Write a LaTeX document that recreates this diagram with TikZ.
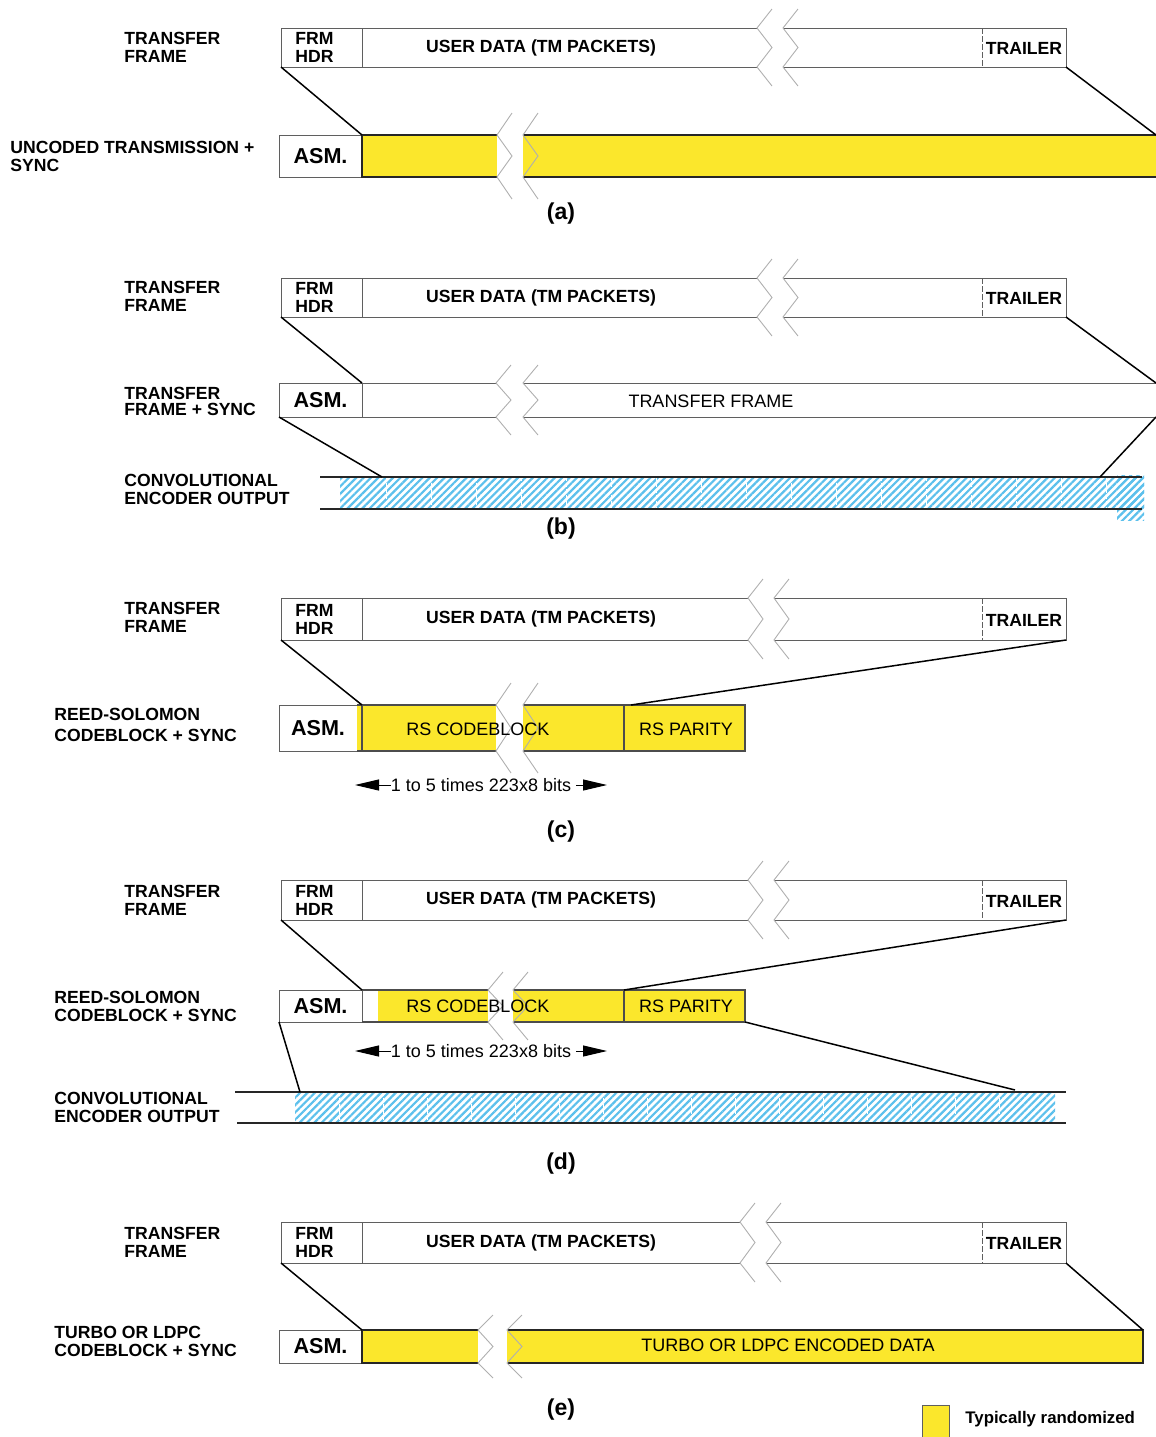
\documentclass[tikz,border=0pt]{standalone}
\usepackage{fontspec}
\setmainfont{Liberation Sans}
\usetikzlibrary{fit,patterns,patterns.meta,arrows.meta}

\definecolor{rndyellow}{RGB}{251,231,44}
\definecolor{hatchblue}{RGB}{92,192,236}
\definecolor{boxline}{RGB}{95,95,95}
\definecolor{breakline}{RGB}{175,175,175}

\tikzset{
  frmline/.style={draw=boxline, line width=0.5pt},
  bordline/.style={draw=black!85, line width=0.6pt},
  diag/.style={draw=black, line width=0.75pt},
  brk/.style={draw=breakline, line width=0.45pt},
  box/.style={inner sep=0pt, outer sep=0pt},
  yfill/.style={box, fill=rndyellow},
  asmbox/.style={box, draw=boxline, line width=0.5pt},
  asmtext/.style={font=\bfseries\fontsize{10.8}{12}\selectfont, inner sep=0pt},
  hatch/.style={box, pattern={Lines[angle=45,distance=2.6pt,line width=1.1pt]}, pattern color=hatchblue},
  lbl/.style={font=\bfseries\fontsize{8.8}{9}\selectfont, align=left, anchor=west, inner sep=0pt},
  tlbl/.style={font=\bfseries\fontsize{8.8}{9}\selectfont, align=left, inner sep=0pt},
  plain/.style={font=\fontsize{9}{10}\selectfont, inner sep=0pt},
  sublabel/.style={font=\bfseries\fontsize{11.5}{12}\selectfont, inner sep=0pt},
  sizearrow/.style={line width=0.5pt, -{Triangle[length=12pt,width=5.5pt]}},
}

% broken-line mark: one zigzag at x, between top and bottom, with overhang
\newcommand\zigzag[4]{%
  \draw[brk] ({#1+15},{#2-#4}) -- ({#1},{#2}) -- ({#1+15},{(#2+#3)/2})
    -- ({#1},{#3}) -- ({#1+15},{#3+#4});}
\newcommand\zigpair[5]{\zigzag{#1}{#3}{#4}{#5}\zigzag{#1+#2}{#3}{#4}{#5}}

% transfer frame: name, top, bottom, x of the break
\newcommand\txframe[4]{%
  \node[box, fit={(281,#2) (1066,#3)}] (#1) {};
  \draw[frmline] ({#4},#2) -- (281,#2) -- (281,#3) -- ({#4},#3);
  \draw[frmline] ({#4+26},#2) -- (1066,#2) -- (1066,#3) -- ({#4+26},#3);
  \draw[frmline] (362,#2) -- (362,#3);
  \draw[frmline, dash pattern=on 3pt off 1pt] (982,#2) -- (982,#3);
  \zigpair{#4}{26}{#2}{#3}{19}
  \node[lbl] (#1-hdr) at (295,{(#2+#3)/2}) {FRM\\HDR};
  \node[tlbl] (#1-data) at (541,{(#2+#3)/2}) {USER DATA (TM PACKETS)};
  \node[tlbl] (#1-trl) at (1024,{(#2+#3)/2+1}) {TRAILER};
}

% sync marker box: name, left, top, right, bottom
\newcommand\asm[5]{%
  \node[asmbox, fit={(#2,#3) (#4,#5)}] (#1) {};
  \node[asmtext] (#1-t) at (#1.center) {ASM.};
}

\begin{document}
\begin{tikzpicture}[x=0.5pt, y=-0.5pt]
\useasboundingbox (0,0) rectangle (1156,1437);

% ---------------- (a) uncoded transmission ----------------
\node[lbl] (lA1) at (124,47) {TRANSFER\\FRAME};
\txframe{frA}{28}{67}{757}
\node[lbl] (lA2) at (10,156) {UNCODED TRANSMISSION +\\SYNC};
\asm{asmA}{279}{135}{362}{177}
\node[yfill, fit={(362,135) (497,177)}] (ylA1) {};
\node[yfill, fit={(523,135) (1156,177)}] (ylA2) {};
\draw[bordline] (ylA1.north east) -- (ylA1.north west) -- (ylA1.south west) -- (ylA1.south east);
\draw[bordline] (ylA2.north west) -- (ylA2.north east) (ylA2.south west) -- (ylA2.south east);
\zigpair{497}{26}{135}{177}{22}
\draw[diag] (frA.south west) -- (ylA1.north west);
\draw[diag] (frA.south east) -- (ylA2.north east);
\node[sublabel] (capA) at (561,214) {(a)};

% ---------------- (b) convolutional ----------------
\node[lbl] (lB1) at (124,296) {TRANSFER\\FRAME};
\txframe{frB}{278}{317}{757}
\node[lbl, font=\bfseries\fontsize{8.8}{8}\selectfont] (lB2) at (124,401) {TRANSFER\\FRAME + SYNC};
\asm{asmB}{279}{383}{362}{417}
\node[box, fit={(362,383) (1156,417)}] (tfB) {};
\draw[frmline] (496,383) -- (362,383) (362,417) -- (496,417);
\draw[frmline] (523,383) -- (1156,383) (523,417) -- (1156,417);
\zigpair{496}{27}{383}{417}{18}
\node[plain] (tfBt) at (711,401) {TRANSFER FRAME};
\draw[diag] (frB.south west) -- (tfB.north west);
\draw[diag] (frB.south east) -- (tfB.north east);
\node[lbl] (lB3) at (124,489.5) {CONVOLUTIONAL\\ENCODER OUTPUT};
\node[hatch, fit={(340,477) (1144,509)}] (cvB) {};
\node[hatch, fit={(1117,475) (1144,520)}] (cvBx) {};
\foreach \xx in {386,431,...,1130}
  \draw[white, line width=0.4pt, dash pattern=on 2pt off 1pt] (\xx,477) -- (\xx,509);
\draw[bordline] (320,477) -- (1142,477) (320,509) -- (1142,509);
\coordinate (cvBl) at (382,477);
\coordinate (cvBr) at (1100,477);
\draw[diag] (asmB.south west) -- (cvBl);
\draw[diag] (tfB.south east) -- (cvBr);
\node[sublabel] (capB) at (561,529) {(b)};

% ---------------- (c) Reed-Solomon ----------------
\node[lbl] (lC1) at (124,617.5) {TRANSFER\\FRAME};
\txframe{frC}{598}{640}{748}
\node[lbl, font=\bfseries\fontsize{8.8}{10.5}\selectfont] (lC2) at (54,724.5) {REED-SOLOMON\\CODEBLOCK + SYNC};
\asm{asmC}{279}{705}{357}{751}
\node[yfill, fit={(357,705) (496,751)}] (ylC1) {};
\node[yfill, fit={(523,705) (745,751)}] (ylC2) {};
\node[box, fit={(362,705) (624,751)}] (cbC) {};
\node[box, fit={(624,705) (745,751)}] (pC) {};
\draw[bordline, draw=black!70] (496,705) -- (357,705) (357,751) -- (496,751);
\draw[bordline, draw=black!70] (523,705) -- (745,705) -- (745,751) -- (523,751);
\draw[bordline, draw=black!70] (cbC.north west) -- (cbC.south west) (pC.north west) -- (pC.south west);
\zigpair{496}{27}{705}{751}{22}
\node[plain] (cbCt) at (478,729) {RS CODEBLOCK};
\node[plain] (pCt) at (686,729) {RS PARITY};
\draw[diag] (frC.south west) -- (cbC.north west);
\draw[diag] (frC.south east) -- ([xshift=3.5pt]pC.north west);
\node[plain] (szC) at (481,785) {1 to 5 times 223x8 bits};
\draw[sizearrow] (szC.west) -- (355,785);
\draw[sizearrow] ([xshift=2.5pt]szC.east) -- (607,785);
\node[sublabel] (capC) at (561,832) {(c)};

% ---------------- (d) concatenated ----------------
\node[lbl] (lD1) at (124,900) {TRANSFER\\FRAME};
\txframe{frD}{880}{920}{748}
\node[lbl] (lD2) at (54,1006) {REED-SOLOMON\\CODEBLOCK + SYNC};
\asm{asmD}{279}{990}{362}{1022}
\node[box, fit={(362,990) (378,1022)}] (stD) {};
\node[yfill, fit={(378,990) (488,1022)}] (ylD1) {};
\node[yfill, fit={(513,990) (745,1022)}] (ylD2) {};
\node[box, fit={(624,990) (745,1022)}] (pD) {};
\draw[bordline, draw=black!70] (488,990) -- (362,990) (362,1022) -- (488,1022);
\draw[bordline, draw=black!70] (513,990) -- (745,990) -- (745,1022) -- (513,1022);
\draw[bordline, draw=black!70] (pD.north west) -- (pD.south west);
\zigpair{488}{25}{990}{1022}{18}
\node[plain] (cbDt) at (478,1006) {RS CODEBLOCK};
\node[plain] (pDt) at (686,1006) {RS PARITY};
\draw[diag] (frD.south west) -- (stD.north west);
\draw[diag] (frD.south east) -- (pD.north west);
\node[plain] (szD) at (481,1051) {1 to 5 times 223x8 bits};
\draw[sizearrow] (szD.west) -- (355,1051);
\draw[sizearrow] ([xshift=2.5pt]szD.east) -- (607,1051);
\node[lbl] (lD3) at (54,1107.5) {CONVOLUTIONAL\\ENCODER OUTPUT};
\node[hatch, fit={(295,1092) (1055,1123)}] (cvD) {};
\foreach \xx in {339,383,...,1040}
  \draw[white, line width=0.4pt, dash pattern=on 2pt off 1pt] (\xx,1092) -- (\xx,1123);
\draw[bordline] (235,1092) -- (1066,1092) (237,1123) -- (1066,1123);
\coordinate (cvDl) at (300,1092);
\coordinate (cvDr) at (1015,1090);
\draw[diag] (asmD.south west) -- (cvDl);
\draw[diag] (pD.south east) -- (cvDr);
\node[sublabel] (capD) at (561,1164) {(d)};

% ---------------- (e) turbo / LDPC ----------------
\node[lbl] (lE1) at (124,1242.5) {TRANSFER\\FRAME};
\txframe{frE}{1222}{1263}{740}
\node[lbl] (lE2) at (54,1341) {TURBO OR LDPC\\CODEBLOCK + SYNC};
\asm{asmE}{279}{1330}{362}{1363}
\node[yfill, fit={(362,1330) (478,1363)}] (ylE1) {};
\node[yfill, fit={(507,1330) (1143,1363)}] (ylE2) {};
\draw[bordline] (ylE1.north east) -- (ylE1.north west) -- (ylE1.south west) -- (ylE1.south east);
\draw[bordline] (ylE2.north west) -- (ylE2.north east) -- (ylE2.south east) -- (ylE2.south west);
\zigpair{478}{29}{1330}{1363}{15}
\node[plain] (ylEt) at (788,1345) {TURBO OR LDPC ENCODED DATA};
\draw[diag] (frE.south west) -- (ylE1.north west);
\draw[diag] (frE.south east) -- (ylE2.north east);
\node[sublabel] (capE) at (561,1410) {(e)};

% ---------------- legend ----------------
\node[yfill, draw=boxline, line width=0.5pt, fit={(922,1405) (949,1440)}] (legbox) {};
\node[lbl, font=\bfseries\fontsize{8.4}{9}\selectfont] (legt) at (965,1419) {Typically randomized};
\end{tikzpicture}
\end{document}
